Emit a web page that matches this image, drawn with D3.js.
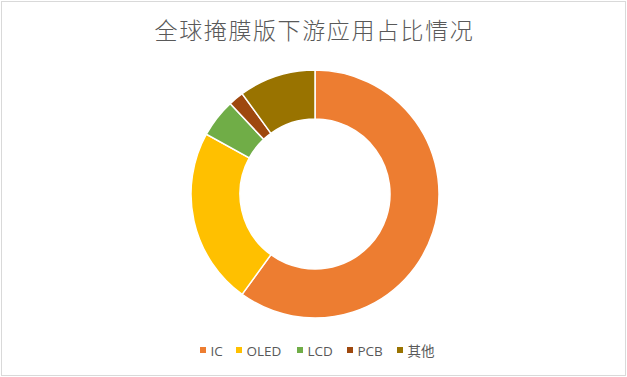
<!DOCTYPE html>
<html>
<head>
<meta charset="utf-8">
<script src="https://cdn.jsdelivr.net/npm/d3@7"></script>
<style>
  body { margin: 0; background: #fff; }
  svg { display: block; }
</style>
</head>
<body>
<div id="chart"></div>
<script>
var categories = ['IC', 'OLED', 'LCD', 'PCB', '其他'];
var shares = [60, 23, 5, 2, 10];
var colors = ['#ED7D31', '#FFC000', '#70AD47', '#9E480E', '#997300'];
var title = '全球掩膜版下游应用占比情况';

var width = 627, height = 377;
var cx = 315, cy = 194, outerR = 124, innerR = 75;

var svg = d3.select('#chart').append('svg')
  .attr('width', width)
  .attr('height', height);

svg.append('rect')
  .attr('x', 1.5).attr('y', 1.5)
  .attr('width', width - 3).attr('height', height - 3)
  .attr('fill', '#fff')
  .attr('stroke', '#D9D9D9')
  .attr('stroke-width', 1);

svg.append('text')
  .attr('x', width / 2 + 1)
  .attr('y', 39)
  .attr('text-anchor', 'middle')
  .attr('fill', '#595959')
  .style('font-family', '"Noto Sans CJK SC", sans-serif')
  .style('font-size', '23px')
  .style('font-weight', 300)
  .style('letter-spacing', '1.6px')
  .text(title);

var data = categories.map(function(c, i) {
  return { name: c, value: shares[i], color: colors[i] };
});

var pie = d3.pie()
  .sort(null)
  .value(function(d) { return d.value; });

var arc = d3.arc()
  .innerRadius(innerR)
  .outerRadius(outerR);

svg.append('g')
  .attr('transform', 'translate(' + cx + ',' + cy + ')')
  .selectAll('path')
  .data(pie(data))
  .enter()
  .append('path')
  .attr('d', arc)
  .attr('fill', function(d) { return d.data.color; })
  .attr('stroke', '#fff')
  .attr('stroke-width', 1.5);

// legend
var legendX = [200, 236, 297, 347, 397];
var legend = svg.append('g')
  .selectAll('g')
  .data(data)
  .enter()
  .append('g')
  .attr('transform', function(d, i) { return 'translate(' + legendX[i] + ',350)'; });

legend.append('rect')
  .attr('x', 0).attr('y', -3)
  .attr('width', 6).attr('height', 6)
  .attr('fill', function(d) { return d.color; });

legend.append('text')
  .attr('x', 10.5)
  .attr('y', 5.5)
  .attr('fill', '#595959')
  .style('font-family', '"Open Sans", "Noto Sans CJK SC", sans-serif')
  .style('font-size', '13.5px')
  .text(function(d) { return d.name; });
</script>
</body>
</html>
